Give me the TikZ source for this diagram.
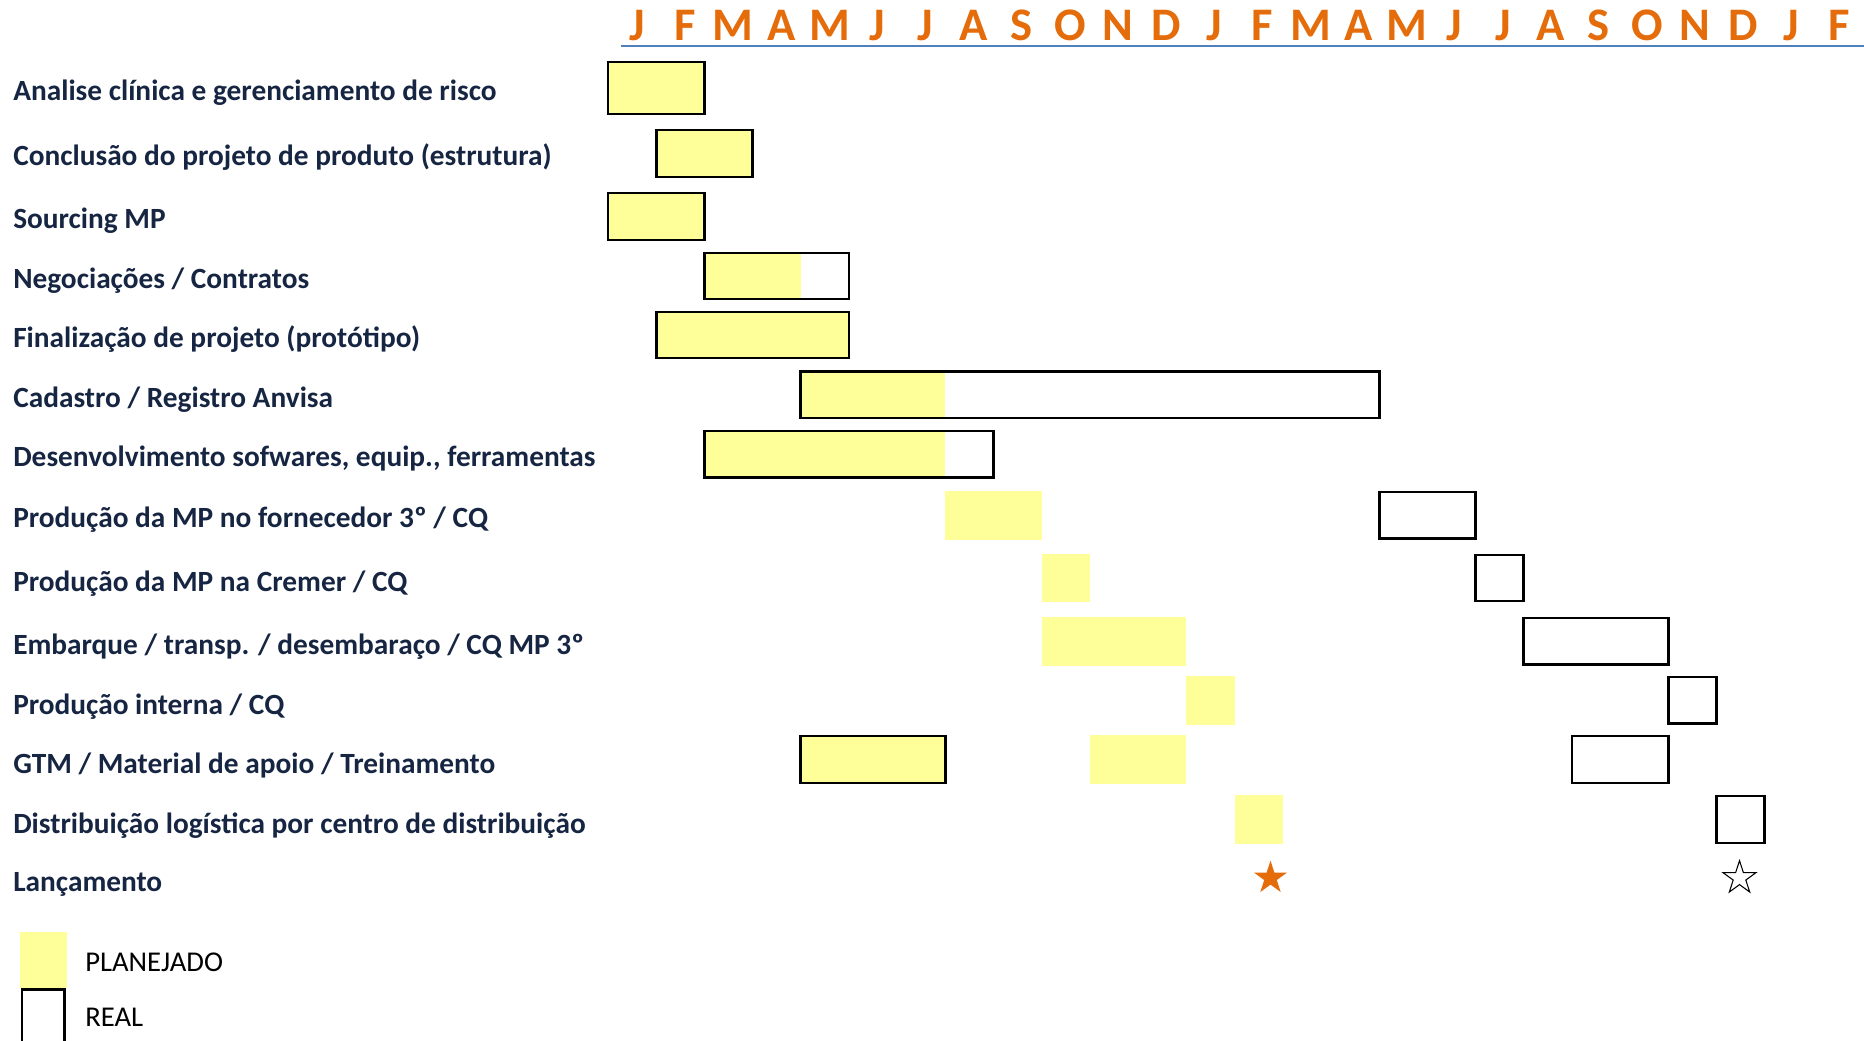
\documentclass[tikz,border=0pt]{standalone}
\usepackage{fontspec}
\setmainfont{Carlito}
\usetikzlibrary{shapes.geometric}

\definecolor{planyellow}{RGB}{255,255,153}
\definecolor{monthorange}{RGB}{228,108,10}
\definecolor{labelnavy}{RGB}{22,37,66}
\definecolor{ruleblue}{RGB}{79,129,189}

\begin{document}
\begin{tikzpicture}[x=0.75pt,y=-0.75pt,
        task/.style={anchor=base west,inner sep=0pt,text=labelnavy,font=\fontsize{22}{26}\selectfont\bfseries},
        month/.style={anchor=base,inner sep=0pt,text=monthorange,font=\fontsize{35}{40}\selectfont\bfseries},
        plan/.style={fill=planyellow},
        real/.style={draw=black,line width=2pt},
        legendtext/.style={anchor=base west,inner sep=0pt,font=\fontsize{21.5}{25}\selectfont}]
        \useasboundingbox (0,0) rectangle (1864,1041);

        % months
        \foreach \m [count=\k from 0] in {J,F,M,A,M,J,J,A,S,O,N,D,J,F,M,A,M,J,J,A,S,O,N,D,J,F}{
            \node[month] (mon\k) at (637+48.1*\k,41) {\m};
        }
        \draw[ruleblue,line width=1.5pt] (621,46) -- (1864,46);

        \node[task] (t1) at (13,100.5) {Analise clínica e gerenciamento de risco};
        \node[task] (t2) at (13,166) {Conclusão do projeto de produto (estrutura)};
        \node[task] (t3) at (13,229) {Sourcing MP};
        \node[task] (t4) at (13,288.5) {Negociações / Contratos};
        \node[task] (t5) at (13,348) {Finalização de projeto (protótipo)};
        \node[task] (t6) at (13,407.5) {Cadastro / Registro Anvisa};
        \node[task] (t7) at (13,466.5) {Desenvolvimento sofwares, equip., ferramentas};
        \node[task] (t8) at (13,527.5) {Produção da MP no fornecedor 3º / CQ};
        \node[task] (t9) at (13,591.5) {Produção da MP na Cremer / CQ};
        \node[task] (t10) at (13,654.5) {Embarque / transp. / desembaraço / CQ MP 3º};
        \node[task] (t11) at (13,714) {Produção interna / CQ};
        \node[task] (t12) at (13,773.5) {GTM / Material de apoio / Treinamento};
        \node[task] (t13) at (13,833) {Distribuição logística por centro de distribuição};
        \node[task] (t14) at (13,891.5) {Lançamento};

        % bars, x in months
        \begin{scope}[shift={(608,0)},x=36.15pt]
            \fill[plan] (0,62) rectangle (2,114);
            \draw[real] (0,62) rectangle (2,114);
            \fill[plan] (1,130) rectangle (3,177);
            \draw[real] (1,130) rectangle (3,177);
            \fill[plan] (0,193) rectangle (2,240);
            \draw[real] (0,193) rectangle (2,240);
            \fill[plan] (2,253) rectangle (4,299);
            \draw[real] (2,253) rectangle (5,299);
            \fill[plan] (1,312) rectangle (5,358);
            \draw[real] (1,312) rectangle (5,358);
            \fill[plan] (4,371.5) rectangle (7,418);
            \draw[real] (4,371.5) rectangle (16,418);
            \fill[plan] (2,431) rectangle (7,477.5);
            \draw[real] (2,431) rectangle (8,477.5);
            \fill[plan] (7,491) rectangle (9,540);
            \draw[real] (16,492) rectangle (18,538.5);
            \fill[plan] (9,554) rectangle (10,602);
            \draw[real] (18,555) rectangle (19,601);
            \fill[plan] (9,617) rectangle (12,665.5);
            \draw[real] (19,618) rectangle (22,664.5);
            \fill[plan] (12,676) rectangle (13,724.5);
            \draw[real] (22,677) rectangle (23,723.5);
            \fill[plan] (4,736) rectangle (7,783);
            \draw[real] (4,736) rectangle (7,783);
            \fill[plan] (10,735) rectangle (12,784);
            \draw[real] (20,736) rectangle (22,783);
            \fill[plan] (13,795) rectangle (14,844);
            \draw[real] (23,796) rectangle (24,843);
        \end{scope}

        \node[star,star points=5,star point ratio=2.618,fill=monthorange,minimum size=26pt,inner sep=0pt] (starplan) at (1270.5,878) {};
        \node[star,star points=5,star point ratio=2.618,draw=black,fill=white,line width=0.8pt,minimum size=26pt,inner sep=0pt] (starreal) at (1739.5,878) {};

        % legend
        \fill[plan] (20,932) rectangle (66.5,988);
        \draw[real] (22,989.5) rectangle (64.5,1052);
        \node[legendtext] (lplan) at (85,971.5) {PLANEJADO};
        \node[legendtext] (lreal) at (85,1026) {REAL};
    \end{tikzpicture}
\end{document}
